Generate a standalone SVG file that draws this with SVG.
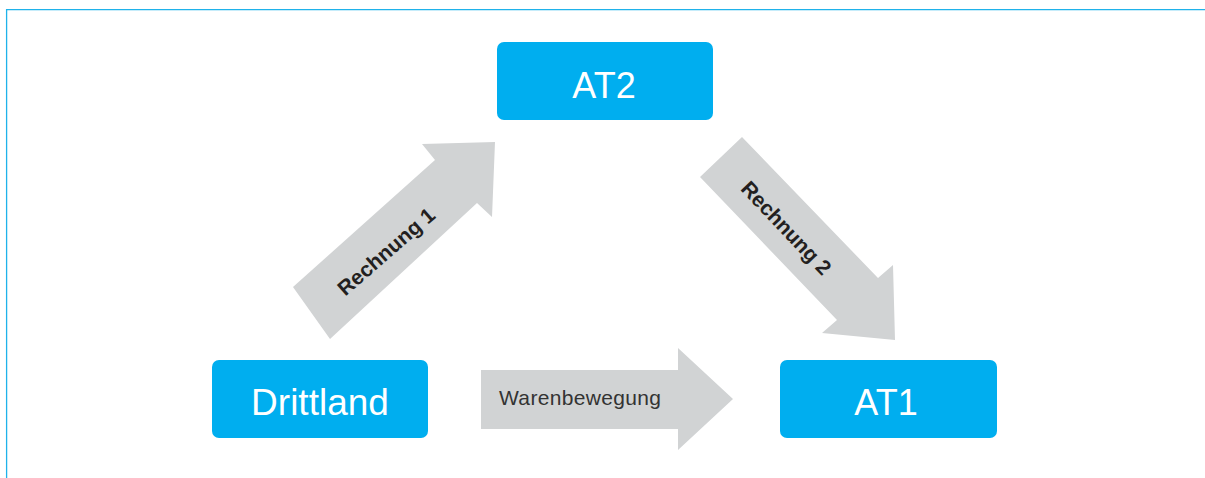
<svg xmlns="http://www.w3.org/2000/svg" width="1205" height="478" viewBox="0 0 1205 478">
<style>
.frame{fill:none;stroke:#1fb2ea;stroke-width:1.3}
.node{fill:#00aeef}
.ntext{fill:#ffffff;font-family:"Liberation Sans",Arial,sans-serif;font-size:36px;text-anchor:middle}
.arrow{fill:#d1d3d4}
.rlabel{fill:#231f20;font-family:"Liberation Sans",Arial,sans-serif;font-size:21px;font-weight:bold;text-anchor:middle}
.wlabel{fill:#333333;font-family:"Liberation Sans",Arial,sans-serif;font-size:21px}
</style>
<rect x="0" y="0" width="1205" height="478" fill="#ffffff"/>
<path class="frame" d="M6.6,478 V9.6 H1205"/>
<g id="connectors">
  <g id="rechnung1">
    <polygon class="arrow" points="293,287 435,160 422,144 495,142 492,217 477,203 330,339"/>
    <text class="rlabel" transform="translate(391,257) rotate(-41)" x="0" y="0" textLength="121" lengthAdjust="spacingAndGlyphs">Rechnung 1</text>
  </g>
  <g id="rechnung2">
    <polygon class="arrow" points="742,137 878,278 893,265 895,340 822,333 837,320 700,177"/>
    <text class="rlabel" transform="translate(781,233) rotate(46.5)" x="0" y="0" textLength="120" lengthAdjust="spacingAndGlyphs">Rechnung 2</text>
  </g>
  <g id="warenbewegung">
    <polygon class="arrow" points="481,370 678,370 678,348 733,399 678,450 678,429 481,429"/>
    <text class="wlabel" x="499" y="405" textLength="162" lengthAdjust="spacing">Warenbewegung</text>
  </g>
</g>
<g id="node-at2">
  <rect class="node" x="497" y="42" width="216" height="78" rx="7"/>
  <text class="ntext" x="604" y="98">AT2</text>
</g>
<g id="node-drittland">
  <rect class="node" x="212" y="360" width="216" height="78" rx="7"/>
  <text class="ntext" x="320" y="415" style="font-size:37px">Drittland</text>
</g>
<g id="node-at1">
  <rect class="node" x="780" y="360" width="217" height="78" rx="7"/>
  <text class="ntext" x="886" y="415">AT1</text>
</g>
</svg>
